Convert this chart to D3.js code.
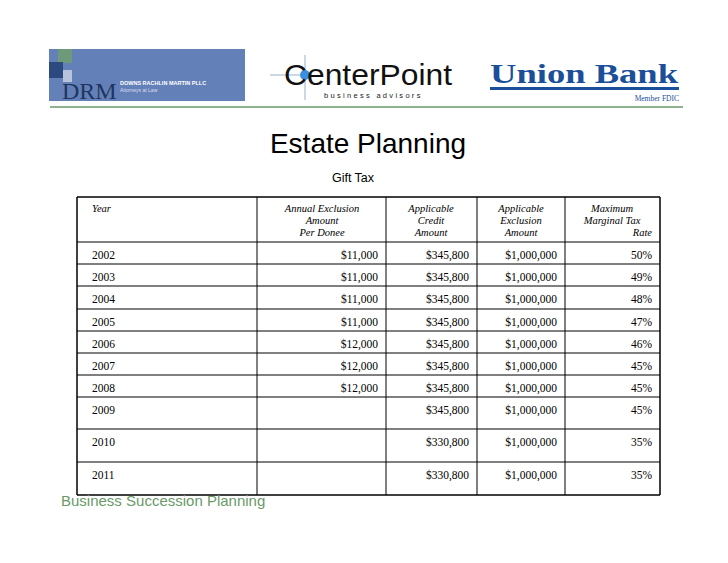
<!DOCTYPE html>
<html><head><meta charset="utf-8">
<script src="https://cdn.jsdelivr.net/npm/d3@7"></script>
<style>body{margin:0;background:#fff}</style></head>
<body><svg id="c" width="728" height="563"></svg>
<script>
const headers = [["Year"],["Annual Exclusion","Amount","Per Donee"],["Applicable","Credit","Amount"],["Applicable","Exclusion","Amount"],["Maximum","Marginal Tax","Rate"]];
const years = ["2002","2003","2004","2005","2006","2007","2008","2009","2010","2011"];
const annualExclusion = ["$11,000","$11,000","$11,000","$11,000","$12,000","$12,000","$12,000","","",""];
const creditAmount = ["$345,800","$345,800","$345,800","$345,800","$345,800","$345,800","$345,800","$345,800","$330,800","$330,800"];
const exclusionAmount = ["$1,000,000","$1,000,000","$1,000,000","$1,000,000","$1,000,000","$1,000,000","$1,000,000","$1,000,000","$1,000,000","$1,000,000"];
const maxRate = ["50%","49%","48%","47%","46%","45%","45%","45%","35%","35%"];

const svg = d3.select("#c");
const colX = [77,257,386,477,565,660];
const rowY = [197,242,264,286,309,331,353,375,397,429,462,495];

// logos
const g1 = svg.append("g");
g1.append("rect").attr("x",49).attr("y",49).attr("width",196).attr("height",52).attr("fill","#6480b8");
g1.append("rect").attr("x",58).attr("y",49).attr("width",14).attr("height",14).attr("fill","#6f9a7a");
g1.append("rect").attr("x",49).attr("y",62).attr("width",14).attr("height",16).attr("fill","#2d4a80");
g1.append("rect").attr("x",63).attr("y",70).attr("width",9).attr("height",12).attr("fill","#b8c4dc");
g1.append("text").attr("x",62).attr("y",99).text("DRM").attr("font-family","Liberation Serif").attr("font-size",24).attr("fill","#1f3560");
g1.append("text").attr("x",120).attr("y",85).text("DOWNS RACHLIN MARTIN PLLC").attr("font-family","Liberation Sans").attr("font-weight","bold").attr("font-size",5.5).attr("fill","#fff");
g1.append("text").attr("x",120).attr("y",92).text("Attorneys at Law").attr("font-family","Liberation Sans").attr("font-size",5).attr("fill","#dde");
svg.append("line").attr("x1",270).attr("x2",300).attr("y1",75).attr("y2",75).attr("stroke","#9ab0cc");
svg.append("line").attr("x1",305).attr("x2",305).attr("y1",55).attr("y2",100).attr("stroke","#9ab0cc");
svg.append("circle").attr("cx",305).attr("cy",75).attr("r",5).attr("fill","#3a8fe0");
svg.append("text").attr("x",284).attr("y",85).text("CenterPoint").attr("font-family","Liberation Sans").attr("font-size",29).attr("textLength",168).attr("lengthAdjust","spacingAndGlyphs").attr("fill","#111");
svg.append("text").attr("x",324).attr("y",98).text("business advisors").attr("font-family","Liberation Sans").attr("font-size",7.5).attr("letter-spacing",2.3).attr("fill","#222");
svg.append("text").attr("x",490).attr("y",83).text("Union Bank").attr("font-family","Liberation Serif").attr("font-weight","bold").attr("font-size",28).attr("textLength",188).attr("lengthAdjust","spacingAndGlyphs").attr("fill","#1c4f9a");
svg.append("rect").attr("x",490).attr("y",87).attr("width",189).attr("height",3).attr("fill","#1c4f9a");
svg.append("text").attr("x",679).attr("y",101).attr("text-anchor","end").text("Member FDIC").attr("font-family","Liberation Serif").attr("font-size",7.5).attr("fill","#1c4f9a");
svg.append("line").attr("x1",50).attr("x2",683).attr("y1",107).attr("y2",107).attr("stroke","#6a9a6a").attr("stroke-width",1.5);

svg.append("text").attr("x",368).attr("y",153).attr("text-anchor","middle").text("Estate Planning").attr("font-family","Liberation Sans").attr("font-size",28).attr("fill","#000");
svg.append("text").attr("x",353).attr("y",182).attr("text-anchor","middle").text("Gift Tax").attr("font-family","Liberation Sans").attr("font-size",12.5).attr("fill","#000");

// table grid
const tg = svg.append("g").attr("stroke","#000").attr("stroke-width",1);
rowY.forEach((y,i)=>tg.append("line").attr("x1",colX[0]).attr("x2",colX[5]).attr("y1",y).attr("y2",y).attr("stroke-width", (i==0||i==rowY.length-1)?1.5:1));
colX.forEach((x,i)=>tg.append("line").attr("x1",x).attr("x2",x).attr("y1",rowY[0]).attr("y2",rowY[rowY.length-1]).attr("stroke-width",(i==0||i==5)?1.5:1));

const hCx = [null,322,431,521,612];
headers.forEach((h,ci)=>{
  h.forEach((line,li)=>{
    const t = svg.append("text").attr("y",212+li*12).text(line)
      .attr("font-family","Liberation Serif").attr("font-style","italic").attr("font-size",10.5);
    if(ci==0) t.attr("x",92);
    else if(ci==4 && li==2) t.attr("x",652).attr("text-anchor","end");
    else t.attr("x",hCx[ci]).attr("text-anchor","middle");
  });
});
const cols = [annualExclusion,creditAmount,exclusionAmount,maxRate];
years.forEach((yr,i)=>{
  const y = rowY[i+1]+17;
  svg.append("text").attr("x",92).attr("y",y).text(yr).attr("font-family","Liberation Serif").attr("font-size",11.5);
  cols.forEach((c,j)=>{
    svg.append("text").attr("x",colX[j+2]-8).attr("y",y).attr("text-anchor","end").text(c[i]).attr("font-family","Liberation Serif").attr("font-size",11.5);
  });
});

svg.append("text").attr("x",61).attr("y",506).text("Business Succession Planning").attr("font-family","Liberation Sans").attr("font-size",15).attr("fill","#6a9a6a");
</script></body></html>
